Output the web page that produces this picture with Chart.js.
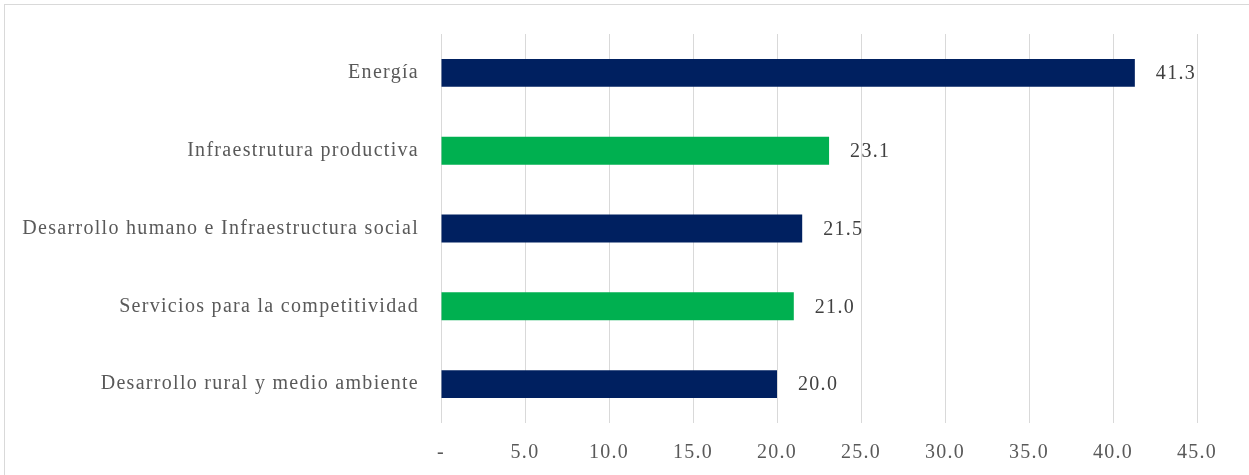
<!DOCTYPE html>
<html lang="es">
<head>
    <meta charset="UTF-8">
    <title>Inversión por sector</title>
    <script src="https://cdn.jsdelivr.net/npm/chart.js"></script>
    <style>
        html, body { margin: 0; padding: 0; overflow: hidden; background: #fff; }
        #frame {
            position: absolute; left: 4px; top: 4px;
            width: 1270px; height: 500px;
            border: 1px solid #d9d9d9;
        }
        #wrap { position: absolute; left: 0; top: 0; width: 1249px; height: 475px; }
    </style>
</head>
<body>
    <div id="frame"></div>
    <div id="wrap"><canvas id="sector-chart"></canvas></div>

    <script>
        const categories = [
            'Energía',
            'Infraestrutura productiva',
            'Desarrollo humano e Infraestructura social',
            'Servicios para la competitividad',
            'Desarrollo rural y medio ambiente'
        ];
        const values = [41.3, 23.1, 21.5, 21.0, 20.0];
        const barColors = ['#002060', '#00b050', '#002060', '#00b050', '#002060'];
        const xTicks = [0, 5, 10, 15, 20, 25, 30, 35, 40, 45];

        const fontFamily = "'Liberation Serif', 'DejaVu Serif', serif";
        const fontSize = 20;
        const textColor = '#595959';
        const spacing = '1.3px';

        // Times is narrower than the Garamond look we want, so open up the letters a bit
        const wideText = {
            id: 'wideText',
            beforeLayout(chart) { chart.ctx.letterSpacing = spacing; },
            beforeDraw(chart) { chart.ctx.letterSpacing = spacing; }
        };

        // writes each value just past the end of its bar
        const valueLabels = {
            id: 'valueLabels',
            afterDatasetsDraw(chart) {
                const ctx = chart.ctx;
                const meta = chart.getDatasetMeta(0);
                ctx.save();
                ctx.letterSpacing = spacing;
                ctx.font = fontSize + 'px ' + fontFamily;
                ctx.fillStyle = '#404040';
                ctx.textAlign = 'left';
                ctx.textBaseline = 'middle';
                meta.data.forEach((bar, i) => {
                    ctx.fillText(values[i].toFixed(1), bar.x + 21, bar.y + 1);
                });
                ctx.restore();
            }
        };

        new Chart(document.getElementById('sector-chart'), {
            type: 'bar',
            data: {
                labels: categories,
                datasets: [{
                    data: values,
                    backgroundColor: barColors,
                    borderWidth: 0,
                    categoryPercentage: 1,
                    barPercentage: 28 / 78
                }]
            },
            options: {
                indexAxis: 'y',
                responsive: true,
                maintainAspectRatio: false,
                animation: false,
                layout: { padding: { top: 33, right: 52, left: 0, bottom: 0 } },
                plugins: {
                    legend: { display: false },
                    tooltip: { enabled: false }
                },
                scales: {
                    x: {
                        min: 0,
                        max: 45,
                        afterBuildTicks: scale => { scale.ticks = xTicks.map(v => ({ value: v })); },
                        afterFit: scale => { scale.height = 52; },
                        grid: { color: '#d9d9d9', lineWidth: 1, drawTicks: false },
                        border: { display: false },
                        ticks: {
                            padding: 18,
                            color: textColor,
                            font: { family: fontFamily, size: fontSize },
                            callback: v => v === 0 ? '-' : v.toFixed(1)
                        }
                    },
                    y: {
                        afterFit: scale => { scale.width = 441; },
                        grid: { display: false, drawTicks: false },
                        border: { display: false },
                        ticks: {
                            padding: 22,
                            color: textColor,
                            font: { family: fontFamily, size: fontSize }
                        }
                    }
                }
            },
            plugins: [wideText, valueLabels]
        });
    </script>
</body>
</html>
